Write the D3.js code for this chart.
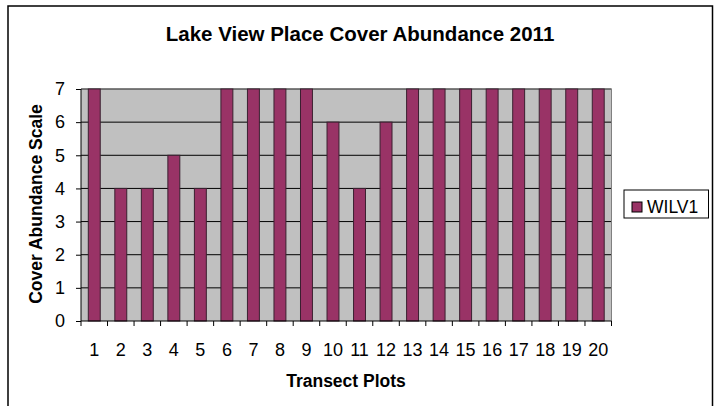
<!DOCTYPE html>
<html><head><meta charset="utf-8">
<script src="https://cdn.jsdelivr.net/npm/d3@7"></script>
<style>body{margin:0;background:#fff}svg{display:block;font-family:"Liberation Sans",Arial,sans-serif}</style>
</head><body><svg id="c" width="716" height="406"></svg>
<script>
const categories = ["1","2","3","4","5","6","7","8","9","10","11","12","13","14","15","16","17","18","19","20"];
const values = [7,4,4,5,4,7,7,7,7,6,4,6,7,7,7,7,7,7,7,7];
const yTicks = [0,1,2,3,4,5,6,7];
const seriesName = "WILV1";
const titleText = "Lake View Place Cover Abundance 2011";
const xTitle = "Transect Plots";
const yTitle = "Cover Abundance Scale";

const svg = d3.select("#c");
const L = 81, R = 611.5, T = 89, B = 321;
const FF = "Liberation Sans, Arial, sans-serif";

// outer frame
svg.append("rect").attr("x",8).attr("y",6).attr("width",704.5).attr("height",410)
  .attr("fill","#fff").attr("stroke","#000").attr("stroke-width",1.5);

const x = d3.scaleBand().domain(categories).range([L,R]).paddingInner(0.55).paddingOuter(0.275);
const xb = d3.scaleBand().domain(categories).range([L,R]);
const y = d3.scaleLinear().domain([0,7]).range([B,T]);

svg.append("rect").attr("x",L).attr("y",T).attr("width",R-L).attr("height",B-T).attr("fill","#c0c0c0");
svg.append("g").selectAll("line").data(yTicks.slice(1)).join("line")
  .attr("x1",L).attr("x2",R).attr("y1",d=>y(d)).attr("y2",d=>y(d)).attr("stroke","#000").attr("stroke-width",1);
svg.append("path").attr("d",`M${L},${T}H${R}V${B}`).attr("fill","none").attr("stroke","#808080").attr("stroke-width",1);

svg.append("g").selectAll("rect").data(values).join("rect")
  .attr("x",(d,i)=>x(categories[i])).attr("width",x.bandwidth())
  .attr("y",d=>y(d)).attr("height",d=>B-y(d))
  .attr("fill","#993366").attr("stroke","#3a2030").attr("stroke-width",1);

// y axis
const ya = svg.append("g").attr("transform",`translate(${L},0)`)
  .call(d3.axisLeft(y).tickValues(yTicks).tickSize(5).tickPadding(11).tickFormat(d3.format("d")));
ya.select(".domain").attr("stroke","#000").attr("d",`M0,${T}V${B}`);
ya.selectAll(".tick line").attr("stroke","#000");
ya.selectAll("text").attr("font-size",18).attr("fill","#000").attr("font-family",FF);

// x axis
const xa = svg.append("g").attr("transform",`translate(0,${B})`)
  .call(d3.axisBottom(xb).tickSize(0).tickPadding(22));
xa.select(".domain").attr("stroke","#000").attr("d",`M${L},0H${R}`);
xa.selectAll("text").attr("font-size",18).attr("fill","#000").attr("font-family",FF);
svg.append("g").selectAll("line").data(categories.concat(["end"])).join("line")
  .attr("x1",(d,i)=>i<categories.length?xb(d):R).attr("x2",(d,i)=>i<categories.length?xb(d):R)
  .attr("y1",B).attr("y2",B+5).attr("stroke","#000");

svg.append("text").attr("x",360).attr("y",41).attr("text-anchor","middle")
  .attr("font-weight","bold").attr("font-size",20.5).text(titleText);
svg.append("text").attr("x",346).attr("y",387).attr("text-anchor","middle")
  .attr("font-weight","bold").attr("font-size",17.5).text(xTitle);
svg.append("text").attr("transform",`translate(42,${(T+B)/2-1}) rotate(-90)`).attr("text-anchor","middle")
  .attr("font-weight","bold").attr("font-size",17.5).text(yTitle);

// legend
const lg = svg.append("g");
lg.append("rect").attr("x",624).attr("y",190).attr("width",84.5).attr("height",28)
  .attr("fill","#fff").attr("stroke","#000").attr("stroke-width",1);
lg.append("rect").attr("x",632).attr("y",202).attr("width",10).attr("height",10)
  .attr("fill","#993366").attr("stroke","#000").attr("stroke-width",1);
lg.append("text").attr("x",647).attr("y",212.5).attr("font-size",17.5).text(seriesName);
</script></body></html>
